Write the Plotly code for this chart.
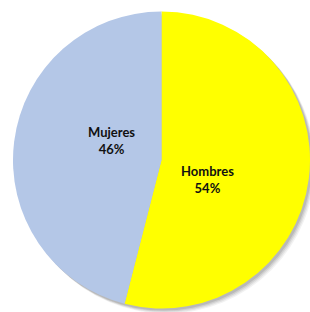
import plotly.graph_objects as go

labels = ["Hombres", "Mujeres"]
values = [54, 46]
colors = ["#FFFF00", "#B4C7E7"]

W, H = 310, 312
cx, cy, r = 161.5, 160.0, 148.5
# label block offsets from pie centre, in px (style, not data)
label_offsets = [(46, 20), (-50, -20)]

fig = go.Figure()
fig.add_trace(go.Pie(
    labels=labels, values=values, sort=False, direction="clockwise",
    marker=dict(colors=colors, line=dict(width=0)),
    textinfo="none", hoverinfo="label+percent",
    showlegend=False,
    domain=dict(x=[(cx - r) / W, 1.0], y=[1 - (cy + r) / H, 1 - (cy - r) / H]),
))
total = sum(values)
annotations = []
for lab, val, (dx, dy) in zip(labels, values, label_offsets):
    pct = round(100 * val / total)
    annotations.append(dict(
        text=f"<b>{lab}</b><br><b>{pct}%</b>", showarrow=False,
        xref="paper", yref="paper", x=(cx + dx) / W, y=1 - (cy + dy) / H,
        xanchor="center", yanchor="middle", align="center",
        font=dict(family="Lato", size=13, color="#111111"),
    ))
shapes = []
for d, op in [(5, 0.08), (4, 0.10), (3, 0.14), (2, 0.18)]:
    shapes.append(dict(type="circle", xref="paper", yref="paper", layer="below",
                       x0=(cx - r + d) / W, x1=(cx + r + d) / W,
                       y0=1 - (cy + r + d) / H, y1=1 - (cy - r + d) / H,
                       fillcolor=f"rgba(90,90,90,{op})", line=dict(width=0)))
fig.update_layout(width=W, height=H, margin=dict(l=0, r=0, t=0, b=0),
                  paper_bgcolor="white", plot_bgcolor="white",
                  shapes=shapes, annotations=annotations)
fig.write_html("out.html", config={"displayModeBar": False},
               post_script="document.body.style.margin='0';")
